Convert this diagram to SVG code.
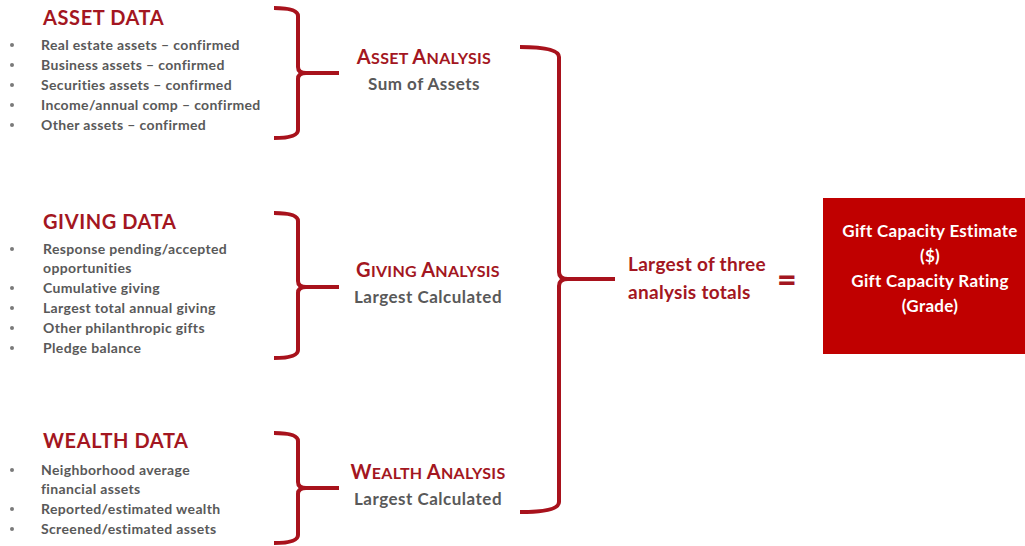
<svg xmlns="http://www.w3.org/2000/svg" width="1025" height="546" viewBox="0 0 1025 546">
<style>
.ttl{font-family:Lato,"Liberation Sans",sans-serif;font-weight:700;font-size:20px;letter-spacing:0.6px;fill:#A31621}
.item{font-family:Lato,"Liberation Sans",sans-serif;font-weight:700;font-size:14px;letter-spacing:0.35px;fill:#595959}
.an{font-family:Lato,"Liberation Sans",sans-serif;font-weight:700;fill:#A31621;text-anchor:middle;letter-spacing:0.3px}
.sub{font-family:Lato,"Liberation Sans",sans-serif;font-weight:700;font-size:17px;letter-spacing:0.5px;fill:#595959;text-anchor:middle}
.big{font-family:Lato,"Liberation Sans",sans-serif;font-weight:700;font-size:19px;letter-spacing:0.3px;fill:#A31621}
.eq{font-family:Lato,"Liberation Sans",sans-serif;font-weight:900;font-size:34px;fill:#A31621}
.box{font-family:Lato,"Liberation Sans",sans-serif;font-weight:700;font-size:17px;letter-spacing:0.3px;fill:#ffffff;text-anchor:middle}
.br{fill:none;stroke:#A8121C;stroke-width:4}
.dot{fill:#7a7a7a}
</style>
<rect width="1025" height="546" fill="#ffffff"/>

<g id="asset-data">
<text class="ttl" x="43" y="25">ASSET DATA</text>
<circle class="dot" cx="12" cy="45" r="2"/><text class="item" x="41" y="50">Real estate assets – confirmed</text>
<circle class="dot" cx="12" cy="65" r="2"/><text class="item" x="41" y="70">Business assets – confirmed</text>
<circle class="dot" cx="12" cy="85" r="2"/><text class="item" x="41" y="90">Securities assets – confirmed</text>
<circle class="dot" cx="12" cy="105" r="2"/><text class="item" x="41" y="110">Income/annual comp – confirmed</text>
<circle class="dot" cx="12" cy="125" r="2"/><text class="item" x="41" y="130">Other assets – confirmed</text>
</g>

<g id="giving-data">
<text class="ttl" x="43" y="229">GIVING DATA</text>
<circle class="dot" cx="12" cy="249" r="2"/><text class="item" x="43" y="254">Response pending/accepted</text>
<text class="item" x="43" y="273">opportunities</text>
<circle class="dot" cx="12" cy="288" r="2"/><text class="item" x="43" y="293">Cumulative giving</text>
<circle class="dot" cx="12" cy="308" r="2"/><text class="item" x="43" y="313">Largest total annual giving</text>
<circle class="dot" cx="12" cy="328" r="2"/><text class="item" x="43" y="333">Other philanthropic gifts</text>
<circle class="dot" cx="12" cy="348" r="2"/><text class="item" x="43" y="353">Pledge balance</text>
</g>

<g id="wealth-data">
<text class="ttl" x="43" y="448">WEALTH DATA</text>
<circle class="dot" cx="12" cy="470" r="2"/><text class="item" x="41" y="475">Neighborhood average</text>
<text class="item" x="41" y="494">financial assets</text>
<circle class="dot" cx="12" cy="509" r="2"/><text class="item" x="41" y="514">Reported/estimated wealth</text>
<circle class="dot" cx="12" cy="529" r="2"/><text class="item" x="41" y="534">Screened/estimated assets</text>
</g>

<g id="connectors">
<path class="br" d="M274,8 Q298,8 298,16 L298,67 Q298,73 306,73 L339,73 M306,73 Q298,73 298,79 L298,130 Q298,138 274,138"/>
<path class="br" d="M274,213 Q298,213 298,221 L298,281 Q298,287 306,287 L339,287 M306,287 Q298,287 298,293 L298,350 Q298,358 274,358"/>
<path class="br" d="M274,433 Q298,433 298,441 L298,482 Q298,488 306,488 L339,488 M306,488 Q298,488 298,494 L298,535 Q298,543 274,543"/>
<path class="br" d="M520,47 Q559,47 559,57 L559,272 Q559,279 568,279 L615,279 M568,279 Q559,279 559,286 L559,502 Q559,512 520,512"/>
</g>

<g id="asset-analysis">
<text class="an" x="424" y="64"><tspan font-size="20">A</tspan><tspan font-size="16">SSET </tspan><tspan font-size="20">A</tspan><tspan font-size="16">NALYSIS</tspan></text>
<text class="sub" x="424" y="90">Sum of Assets</text>
</g>

<g id="giving-analysis">
<text class="an" x="428" y="277"><tspan font-size="20">G</tspan><tspan font-size="16">IVING </tspan><tspan font-size="20">A</tspan><tspan font-size="16">NALYSIS</tspan></text>
<text class="sub" x="428" y="303">Largest Calculated</text>
</g>

<g id="wealth-analysis">
<text class="an" x="428" y="479"><tspan font-size="20">W</tspan><tspan font-size="16">EALTH </tspan><tspan font-size="20">A</tspan><tspan font-size="16">NALYSIS</tspan></text>
<text class="sub" x="428" y="505">Largest Calculated</text>
</g>

<g id="largest">
<text class="big" x="628" y="271">Largest of three</text>
<text class="big" x="628" y="299">analysis totals</text>
<text class="eq" x="777" y="292">=</text>
</g>

<g id="result">
<rect x="823" y="198" width="210" height="156" fill="#C00000"/>
<text class="box" x="930" y="237">Gift Capacity Estimate</text>
<text class="box" x="930" y="262">($)</text>
<text class="box" x="930" y="287">Gift Capacity Rating</text>
<text class="box" x="930" y="312">(Grade)</text>
</g>
</svg>
